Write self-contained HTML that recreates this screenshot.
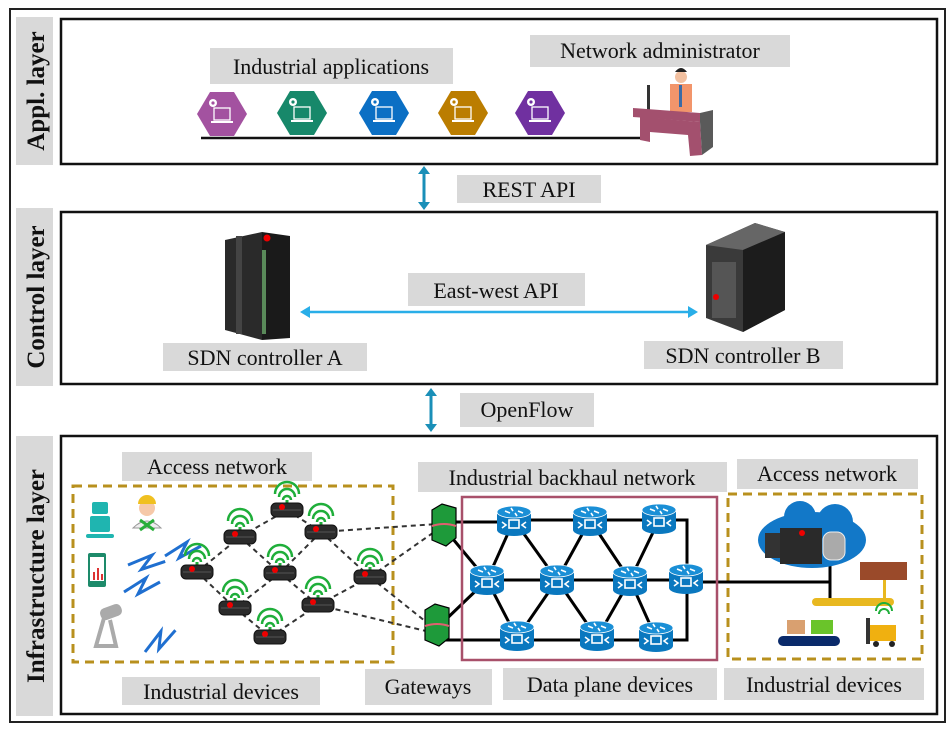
<!DOCTYPE html>
<html><head><meta charset="utf-8"><style>
html,body{margin:0;padding:0;background:#fff}
svg{display:block}
svg text{font-family:"Liberation Serif","Times New Roman",serif !important;fill:#111}
</style></head><body>
<svg width="952" height="734" viewBox="0 0 952 734" xmlns="http://www.w3.org/2000/svg" font-family="Liberation Serif, serif">
<defs>
<g id="hexicon">
  <polygon points="-25,0 -12,-22 12,-22 25,0 12,22 -12,22"/>
  <rect x="-8" y="-6" width="16" height="12" fill="none" stroke="#fff" stroke-width="1.3"/>
  <rect x="-11" y="7" width="22" height="2" fill="#fff"/>
  <circle cx="-9" cy="-11" r="4" fill="#fff"/>
  <circle cx="-9" cy="-11" r="1.6"/>
</g>
<g id="node">
  <path d="M-12,-16 a12,12 0 0 1 24,0" fill="none" stroke="#1fae3a" stroke-width="2.5"/>
  <path d="M-8,-13 a8,8 0 0 1 16,0" fill="none" stroke="#1fae3a" stroke-width="2.5"/>
  <path d="M-4,-10 a4,4 0 0 1 8,0" fill="none" stroke="#1fae3a" stroke-width="2.5"/>
  <rect x="-1.5" y="-10" width="3" height="5" fill="#1fae3a"/>
  <rect x="-16" y="-7" width="32" height="14" rx="5" fill="#2b2b2b" stroke="#111"/>
  <line x1="-14" y1="0" x2="14" y2="0" stroke="#555" stroke-width="1"/>
  <circle cx="-5" cy="-3" r="3" fill="#e00"/>
</g>
<g id="router">
  <ellipse cx="0" cy="10" rx="17" ry="6" fill="#0a78bf"/>
  <rect x="-17" y="-8" width="34" height="18" fill="#0a78bf"/>
  <ellipse cx="0" cy="-8" rx="17" ry="6" fill="#1a8fd6" stroke="#fff" stroke-width="0.8"/>
  <path d="M-9,-9 l5,2 M9,-7 l-5,-2 M-3,-12 l2,3 M3,-4 l-2,-3" stroke="#fff" stroke-width="1.6"/>
  <rect x="-5" y="0" width="10" height="8" fill="none" stroke="#fff" stroke-width="1.6"/>
  <path d="M-12,2 l4,3 -4,3 M12,2 l-4,3 4,3" fill="none" stroke="#fff" stroke-width="1.6"/>
</g>
<g id="bolt">
  <polyline points="0,0 22,-14 14,2 36,-10" fill="none" stroke="#1f6fd0" stroke-width="3"/>
</g>
</defs>

<rect x="10" y="9" width="935" height="713" fill="none" stroke="#222" stroke-width="2"/>

<rect x="16" y="17" width="37" height="148" fill="#d9d9d9"/>
<text transform="translate(44,91) rotate(-90)" text-anchor="middle" font-size="25" font-weight="bold">Appl. layer</text>
<rect x="16" y="208" width="37" height="178" fill="#d9d9d9"/>
<text transform="translate(44,297) rotate(-90)" text-anchor="middle" font-size="25" font-weight="bold">Control layer</text>
<rect x="16" y="436" width="37" height="280" fill="#d9d9d9"/>
<text transform="translate(44,576) rotate(-90)" text-anchor="middle" font-size="25" font-weight="bold">Infrastructure layer</text>

<rect x="61" y="19" width="876" height="145" fill="none" stroke="#111" stroke-width="2.5"/>
<rect x="61" y="212" width="876" height="172" fill="none" stroke="#111" stroke-width="2.5"/>
<rect x="61" y="436" width="876" height="278" fill="none" stroke="#111" stroke-width="2.5"/>

<rect x="210" y="48" width="243" height="36" fill="#d9d9d9"/>
<text x="331" y="74" text-anchor="middle" font-size="22">Industrial applications</text>
<rect x="530" y="35" width="260" height="32" fill="#d9d9d9"/>
<text x="660" y="58" text-anchor="middle" font-size="22">Network administrator</text>
<line x1="201" y1="138" x2="650" y2="138" stroke="#111" stroke-width="2.5"/>
<use href="#hexicon" x="222" y="114" fill="#a352a0"/>
<use href="#hexicon" x="302" y="113" fill="#17886a"/>
<use href="#hexicon" x="384" y="113" fill="#0b6fc4"/>
<use href="#hexicon" x="463" y="113" fill="#bb7d00"/>
<use href="#hexicon" x="540" y="113" fill="#7030a0"/>
<g>
  <rect x="647" y="85" width="3" height="28" fill="#333"/>
  <circle cx="681" cy="77" r="6" fill="#f2c0a0"/>
  <path d="M675,72 q6,-8 12,0 z" fill="#222"/>
  <path d="M670,84 h22 v28 h-22 z" fill="#f2956b"/>
  <rect x="679" y="85" width="3" height="22" fill="#3a6ba6"/>
  <polygon points="633,108 700,113 700,122 633,117" fill="#a3506e"/>
  <polygon points="640,117 700,122 702,155 690,156 688,135 650,132 650,142 640,140" fill="#a3506e"/>
  <polygon points="700,113 713,110 713,147 702,155 700,122" fill="#5a5a5a"/>
</g>

<g fill="#1a8fb8" stroke="#1a8fb8">
  <line x1="424" y1="172" x2="424" y2="204" stroke-width="3"/>
  <polygon points="418,174 424,166 430,174" stroke="none"/>
  <polygon points="418,202 424,210 430,202" stroke="none"/>
</g>
<rect x="457" y="175" width="144" height="28" fill="#d9d9d9"/>
<text x="529" y="197" text-anchor="middle" font-size="22">REST API</text>

<g>
  <polygon points="225,240 262,232 262,340 225,330" fill="#2a2a2a"/>
  <polygon points="262,232 290,236 290,338 262,340" fill="#1a1a1a"/>
  <rect x="236" y="236" width="6" height="98" fill="#444"/>
  <rect x="262" y="250" width="4" height="84" fill="#5a8a5a"/>
  <circle cx="267" cy="238" r="3.5" fill="#e00"/>
</g>
<rect x="163" y="343" width="204" height="28" fill="#d9d9d9"/>
<text x="265" y="365" text-anchor="middle" font-size="22">SDN controller A</text>
<rect x="408" y="273" width="177" height="33" fill="#d9d9d9"/>
<text x="496" y="298" text-anchor="middle" font-size="22">East-west API</text>
<line x1="306" y1="312" x2="692" y2="312" stroke="#29aee8" stroke-width="2.5"/>
<polygon points="300,312 310,306 310,318" fill="#29aee8"/>
<polygon points="698,312 688,306 688,318" fill="#29aee8"/>
<g>
  <polygon points="706,245 755,223 785,232 785,310 743,332 706,318" fill="#3a3a3a"/>
  <polygon points="706,245 755,223 785,232 743,250" fill="#666"/>
  <polygon points="743,250 785,232 785,310 743,332" fill="#1c1c1c"/>
  <rect x="712" y="262" width="24" height="56" fill="#555"/>
  <circle cx="716" cy="297" r="3" fill="#e00"/>
</g>
<rect x="644" y="341" width="199" height="28" fill="#d9d9d9"/>
<text x="743" y="363" text-anchor="middle" font-size="22">SDN controller B</text>

<g fill="#1a8fb8" stroke="#1a8fb8">
  <line x1="431" y1="394" x2="431" y2="426" stroke-width="3"/>
  <polygon points="425,396 431,388 437,396" stroke="none"/>
  <polygon points="425,424 431,432 437,424" stroke="none"/>
</g>
<rect x="460" y="393" width="134" height="34" fill="#d9d9d9"/>
<text x="527" y="417" text-anchor="middle" font-size="22">OpenFlow</text>

<rect x="122" y="452" width="190" height="29" fill="#d9d9d9"/>
<text x="217" y="474" text-anchor="middle" font-size="22">Access network</text>
<rect x="73" y="486" width="320" height="176" fill="none" stroke="#b8901e" stroke-width="3" stroke-dasharray="9,6"/>
<rect x="122" y="677" width="198" height="28" fill="#d9d9d9"/>
<text x="221" y="699" text-anchor="middle" font-size="22">Industrial devices</text>
<rect x="365" y="669" width="127" height="36" fill="#d9d9d9"/>
<text x="428" y="694" text-anchor="middle" font-size="22">Gateways</text>
<rect x="418" y="462" width="309" height="30" fill="#d9d9d9"/>
<text x="572" y="485" text-anchor="middle" font-size="22">Industrial backhaul network</text>
<rect x="737" y="459" width="181" height="30" fill="#d9d9d9"/>
<text x="827" y="481" text-anchor="middle" font-size="22">Access network</text>
<rect x="728" y="494" width="194" height="165" fill="none" stroke="#b8901e" stroke-width="3" stroke-dasharray="9,6"/>
<rect x="503" y="668" width="214" height="32" fill="#d9d9d9"/>
<text x="610" y="692" text-anchor="middle" font-size="22">Data plane devices</text>
<rect x="724" y="668" width="200" height="32" fill="#d9d9d9"/>
<text x="824" y="692" text-anchor="middle" font-size="22">Industrial devices</text>

<g>
  <rect x="92" y="502" width="16" height="12" rx="2" fill="#1fb5b0"/>
  <rect x="90" y="516" width="20" height="16" rx="2" fill="#1fb5b0"/>
  <rect x="86" y="534" width="28" height="4" rx="2" fill="#1fb5b0"/>
  <circle cx="147" cy="508" r="8" fill="#f6c9a9"/>
  <path d="M138,504 a9,9 0 0 1 18,0 z" fill="#f0c020"/>
  <path d="M133,528 q14,-14 28,0 z" fill="#eee" stroke="#999"/>
  <path d="M140,520 l14,10 M154,520 l-14,10" stroke="#2aae3a" stroke-width="3"/>
  <rect x="88" y="553" width="18" height="34" rx="2" fill="#1d8a6a"/>
  <rect x="90" y="557" width="14" height="24" fill="#fff"/>
  <rect x="93" y="572" width="2" height="8" fill="#d33"/><rect x="97" y="568" width="2" height="12" fill="#d33"/><rect x="101" y="574" width="2" height="6" fill="#d33"/>
  <rect x="100" y="606" width="22" height="12" rx="5" fill="#aaa" transform="rotate(-20 111 612)"/>
  <path d="M104,618 l-8,28 h20 l-6,-26" fill="none" stroke="#aaa" stroke-width="4"/>
</g>
<use href="#bolt" x="165" y="556"/>
<use href="#bolt" x="128" y="565" transform="rotate(10 128 565)"/>
<use href="#bolt" x="124" y="592"/>
<use href="#bolt" x="145" y="652" transform="rotate(-20 145 652)"/>

<g stroke="#333" stroke-width="2" stroke-dasharray="5,4" fill="none">
  <line x1="197" y1="572" x2="240" y2="537"/>
  <line x1="240" y1="537" x2="287" y2="510"/>
  <line x1="287" y1="510" x2="321" y2="532"/>
  <line x1="197" y1="572" x2="235" y2="608"/>
  <line x1="240" y1="537" x2="280" y2="573"/>
  <line x1="321" y1="532" x2="280" y2="573"/>
  <line x1="321" y1="532" x2="370" y2="577"/>
  <line x1="280" y1="573" x2="235" y2="608"/>
  <line x1="280" y1="573" x2="318" y2="605"/>
  <line x1="235" y1="608" x2="270" y2="637"/>
  <line x1="270" y1="637" x2="318" y2="605"/>
  <line x1="318" y1="605" x2="370" y2="577"/>
  <line x1="321" y1="532" x2="437" y2="524"/>
  <line x1="370" y1="577" x2="437" y2="530"/>
  <line x1="370" y1="577" x2="430" y2="625"/>
  <line x1="318" y1="605" x2="430" y2="632"/>
</g>
<use href="#node" x="197" y="572"/>
<use href="#node" x="240" y="537"/>
<use href="#node" x="287" y="510"/>
<use href="#node" x="321" y="532"/>
<use href="#node" x="280" y="573"/>
<use href="#node" x="235" y="608"/>
<use href="#node" x="318" y="605"/>
<use href="#node" x="270" y="637"/>
<use href="#node" x="370" y="577"/>

<g stroke="#000" stroke-width="3" fill="none">
  <line x1="443" y1="522" x2="514" y2="522"/>
  <line x1="443" y1="527" x2="487" y2="580"/>
  <line x1="437" y1="628" x2="487" y2="580"/>
  <line x1="437" y1="640" x2="517" y2="640"/>
  <polyline points="514,520 687,520 687,640 517,640"/>
  <line x1="514" y1="520" x2="487" y2="580"/><line x1="514" y1="520" x2="557" y2="580"/>
  <line x1="590" y1="520" x2="557" y2="580"/><line x1="590" y1="520" x2="630" y2="580"/>
  <line x1="659" y1="520" x2="630" y2="580"/>
  <line x1="487" y1="580" x2="686" y2="580"/>
  <line x1="487" y1="580" x2="517" y2="638"/><line x1="557" y1="580" x2="517" y2="638"/>
  <line x1="557" y1="580" x2="597" y2="638"/><line x1="630" y1="580" x2="597" y2="638"/>
  <line x1="630" y1="580" x2="656" y2="638"/>
  <polyline points="686,582 830,582 830,540"/>
  <line x1="830" y1="582" x2="830" y2="602"/>
</g>
<rect x="462" y="497" width="255" height="163" fill="none" stroke="#a8506a" stroke-width="2.5"/>
<g stroke="#000" stroke-width="1.2">
  <polygon points="432,510 442,504 456,508 456,538 446,546 432,540" fill="#1e9a3a"/>
  <polygon points="425,610 435,604 449,608 449,638 439,646 425,640" fill="#1e9a3a"/>
</g>
<path d="M432,526 q12,-4 24,0 M425,626 q12,-4 24,0" stroke="#e06070" stroke-width="2" fill="none"/>
<use href="#router" x="514" y="520"/>
<use href="#router" x="590" y="520"/>
<use href="#router" x="659" y="518"/>
<use href="#router" x="487" y="579"/>
<use href="#router" x="557" y="579"/>
<use href="#router" x="630" y="580"/>
<use href="#router" x="686" y="578"/>
<use href="#router" x="517" y="635"/>
<use href="#router" x="597" y="635"/>
<use href="#router" x="656" y="636"/>

<g>
  <ellipse cx="812" cy="540" rx="54" ry="28" fill="#1278c8"/>
  <circle cx="800" cy="517" r="16" fill="#1278c8"/>
  <circle cx="835" cy="522" r="18" fill="#1278c8"/>
  <rect x="765" y="533" width="20" height="25" fill="#333"/>
  <rect x="780" y="528" width="42" height="36" fill="#2a2a2a"/>
  <circle cx="802" cy="533" r="3" fill="#e00"/>
  <rect x="823" y="532" width="22" height="28" rx="8" fill="#aaa" stroke="#eee"/>
  <rect x="812" y="598" width="82" height="8" rx="4" fill="#e8b820"/>
  <rect x="883" y="580" width="3" height="20" fill="#e8b820"/>
  <rect x="860" y="562" width="47" height="18" fill="#9a4a2a"/>
  <rect x="787" y="620" width="18" height="14" fill="#d9a070"/>
  <rect x="811" y="620" width="22" height="14" fill="#6ac42a"/>
  <rect x="778" y="636" width="62" height="10" rx="5" fill="#0a2a6a"/>
  <path d="M876,611 a8,8 0 0 1 16,0 M879,614 a5,5 0 0 1 10,0" stroke="#1fae3a" stroke-width="2" fill="none"/>
  <rect x="870" y="625" width="26" height="16" fill="#f0b010"/>
  <rect x="866" y="618" width="4" height="26" fill="#333"/>
  <circle cx="876" cy="644" r="3" fill="#222"/><circle cx="892" cy="644" r="3" fill="#222"/>
</g>
</svg>
</body></html>
